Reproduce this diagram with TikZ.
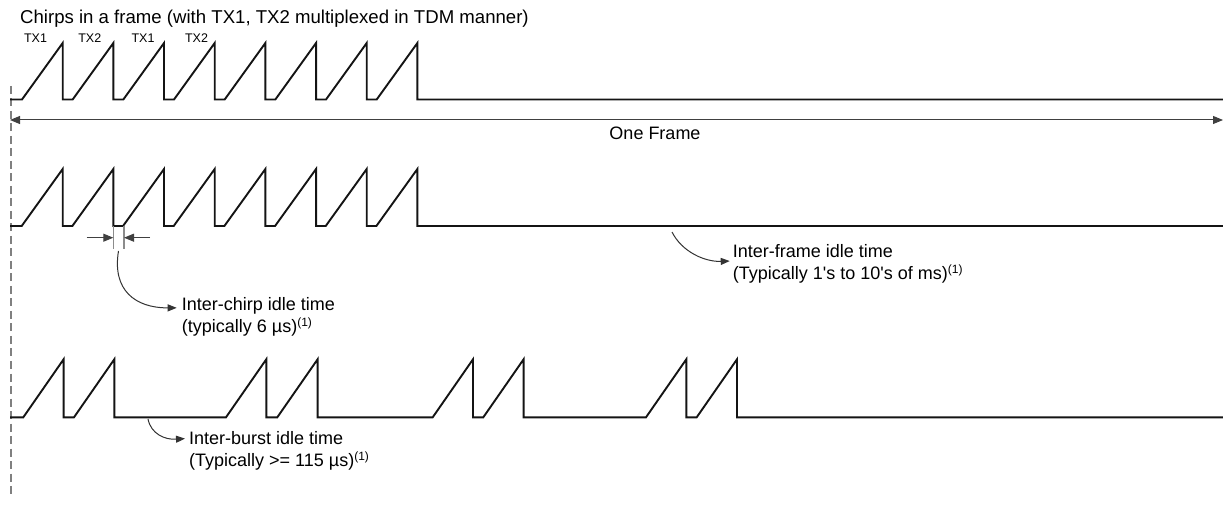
\documentclass[tikz,border=0pt]{standalone}
\usepackage{fontspec}
\setmainfont{Liberation Sans}
% family without TeX ligatures, so straight apostrophes stay straight
\newfontfamily\labelfont{Liberation Sans}
\usetikzlibrary{arrows.meta,calc}
% small raised note mark
\newcommand{\refone}{{\fontsize{12}{12}\selectfont\raisebox{6.5pt}{(1)}}}
\begin{document}
\begin{tikzpicture}[x=1pt,y=-1pt,
  chirp/.style={line width=1.9pt, black!92, line join=miter},
  dimline/.style={line width=1pt, black!75},
  guide/.style={line width=1.3pt, black!50, dash pattern=on 8pt off 4.5pt},
  gaptick/.style={line width=1.2pt, black!45},
  head/.style={-{Triangle[length=10pt,width=8pt]}},
  callout/.style={line width=1pt, black!80, -{Triangle[length=9pt,width=7pt]}},
  lbl/.style={inner sep=0pt, anchor=base west, font=\labelfont\fontsize{18}{22}\selectfont},
  txlbl/.style={inner sep=0pt, anchor=base, font=\labelfont\fontsize{12.5}{14}\selectfont},
]
\useasboundingbox (0,0) rectangle (1223,518);

% title and transmitter tags
\node[lbl, font=\labelfont\fontsize{18.6}{22}\selectfont] (title) at (20,23.3) {Chirps in a frame (with TX1, TX2 multiplexed in TDM manner)};
\node[txlbl] (tx1a) at (35.5,42.7) {TX1};
\node[txlbl] (tx2a) at (89.8,42.7) {TX2};
\node[txlbl] (tx1b) at (143,42.7) {TX1};
\node[txlbl] (tx2b) at (196.5,42.7) {TX2};

% frame start guide
\coordinate (guideTop) at (11,86);
\coordinate (guideBot) at (11,497);
\draw[guide] (guideTop) -- (guideBot);

% row 1: continuous chirps then idle
\draw[chirp] (10,99.5)
  \foreach \k in {0,...,7} { -- ({22+50.67*\k},99.5) -- ({62.7+50.67*\k},43) -- ({62.7+50.67*\k},99.5) }
  -- (1223,99.5);

% frame length
\coordinate (frameL) at (10,120);
\coordinate (frameR) at (1223,120);
\draw[dimline, {Triangle[length=10pt,width=8pt]}-{Triangle[length=10pt,width=8pt]}] (frameL) -- (frameR);
\node[lbl, anchor=base] (oneFrame) at (655,140) {One Frame};

% row 2: chirps with idle gaps
\draw[chirp] (10,226)
  \foreach \k in {0,...,7} { -- ({21.7+50.67*\k},226) -- ({62.7+50.67*\k},169) -- ({62.7+50.67*\k},226) }
  -- (1223,226);

% inter-chirp gap marker
\coordinate (gapLtop) at (113.3,226);
\coordinate (gapLbot) at (113.3,249);
\coordinate (gapRtop) at (124,226);
\coordinate (gapRbot) at (124,249);
\draw[gaptick] (gapLtop) -- (gapLbot);
\draw[gaptick] (gapRtop) -- (gapRbot);
\coordinate (gapLin) at (86.7,237.7);
\coordinate (gapRin) at (150,237.7);
\draw[dimline, head] (gapLin) -- (gapLtop |- gapLin);
\draw[dimline, head] (gapRin) -- (gapRtop |- gapRin);

% inter-chirp callout
\node[lbl] (chirpA) at (181.7,310.5) {Inter-chirp idle time};
\node[lbl] (chirpB) at (181.7,333) {(typically 6 µs)\refone};
\coordinate (chirpFrom) at (118.5,251);
\draw[callout] (chirpFrom) .. controls (112,290) and (135,308) .. ([xshift=-5pt,yshift=-2pt]chirpA.west);

% inter-frame callout
\node[lbl] (frameA) at (732.7,257.5) {Inter-frame idle time};
\node[lbl] (frameB) at (732.7,280) {(Typically 1's to 10's of ms)\refone};
\coordinate (frameFrom) at (672,232);
\draw[callout] (frameFrom) .. controls (682,252) and (705,262) .. ([xshift=-3pt,yshift=-10pt]frameA.west);

% row 3: bursts of two chirps
\draw[chirp] (10,417.3)
  \foreach \s in {23.3,74,226,277.3,432.7,483.3,646,696.7} { -- (\s,417.3) -- ({\s+40.3},359.3) -- ({\s+40.3},417.3) }
  -- (1223,417.3);

% inter-burst callout
\node[lbl] (burstA) at (189,444) {Inter-burst idle time};
\node[lbl] (burstB) at (189,466.7) {(Typically >= 115 µs)\refone};
\coordinate (burstFrom) at (148,419);
\draw[callout] (burstFrom) .. controls (151,434) and (165,440) .. ([xshift=-4pt,yshift=-1pt]burstA.west);
\end{tikzpicture}
\end{document}
